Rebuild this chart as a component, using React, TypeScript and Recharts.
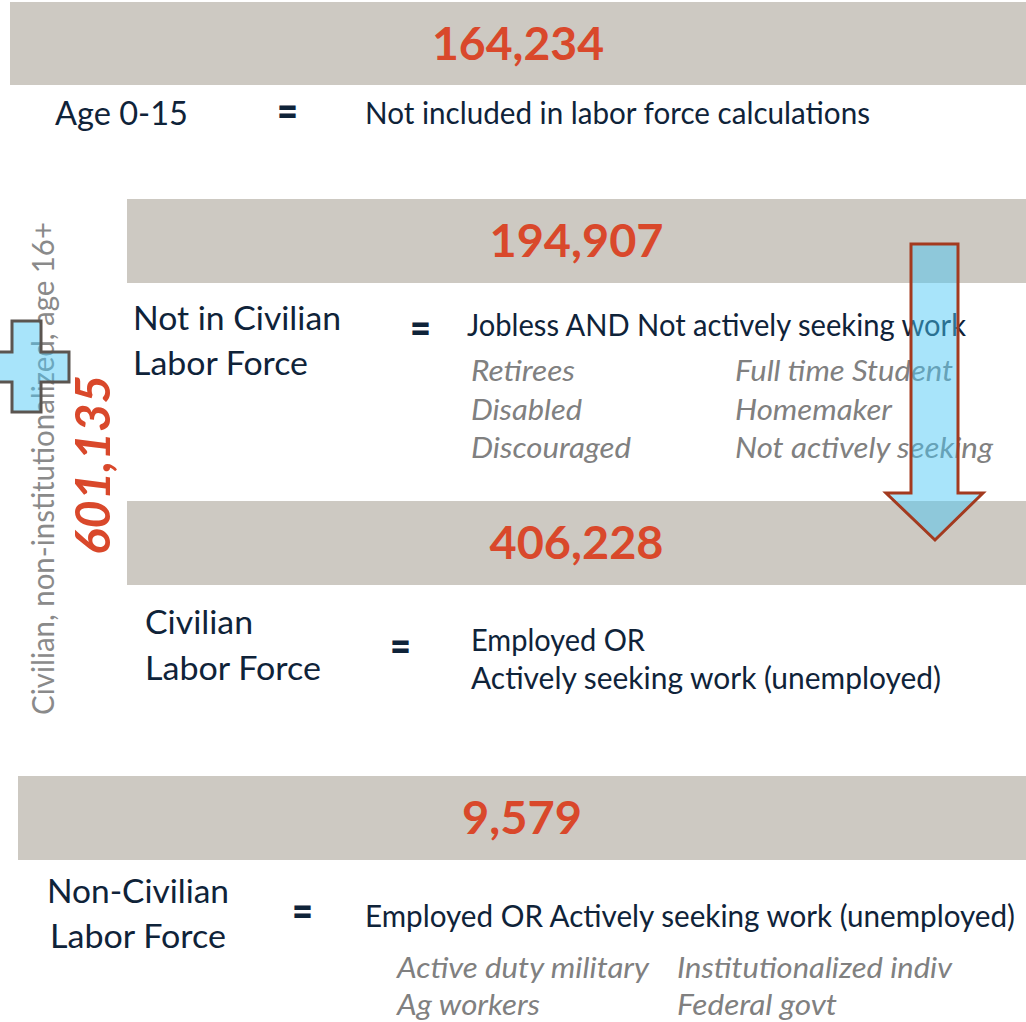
import { ComposedChart, XAxis, YAxis, ReferenceArea, Customized } from "recharts";

const totals = [164234, 194907, 406228, 9579];
const groupTotal = 601135;
const groupLabel = "Civilian, non-institutionalized, age 16+";
const rowNames = [
  ["Age 0-15"],
  ["Not in Civilian", "Labor Force"],
  ["Civilian", "Labor Force"],
  ["Non-Civilian", "Labor Force"],
];
const definitions = [
  ["Not included in labor force calculations"],
  ["Jobless AND Not actively seeking work"],
  ["Employed OR", "Actively seeking work (unemployed)"],
  ["Employed OR Actively seeking work (unemployed)"],
];
const notInLaborForce = [
  "Retirees",
  "Disabled",
  "Discouraged",
  "Full time Student",
  "Homemaker",
  "Not actively seeking",
];
const nonCivilian = [
  "Active duty military",
  "Ag workers",
  "Institutionalized indiv",
  "Federal govt",
];

const W = 1026;
const H = 1022;
const FONT = "Lato, 'Open Sans', sans-serif";
const NAVY = "#0f2339";
const RED = "#d9482b";
const BAND = "#cdc9c2";
const GREY = "#808080";
const BLUE = "#4ac7f5";

// band boxes and the width of the number inside
const bands = [
  { x1: 10, x2: W, y1: 2, y2: 85, numW: 172 },
  { x1: 127, x2: W, y1: 199, y2: 283, numW: 174 },
  { x1: 127, x2: W, y1: 501, y2: 585, numW: 174 },
  { x1: 18, x2: W, y1: 776, y2: 860, numW: 120 },
];

// [x, baseline, width] of each text line
const namePos = [
  [[55, 125, 133]],
  [
    [133, 330, 208],
    [133, 375, 175],
  ],
  [
    [145, 634, 108],
    [145, 680, 176],
  ],
  [
    [47, 903, 182],
    [50, 948, 176],
  ],
];
const eqPos = [
  [277, 124],
  [410, 341],
  [390, 659],
  [292, 924],
];
const defPos = [
  [[365, 124, 505]],
  [[467, 336, 499]],
  [
    [471, 651, 174],
    [471, 689, 470],
  ],
  [[365, 927, 650]],
];
const notInPos = [
  [471, 381, 104],
  [471, 420, 111],
  [471, 458, 160],
  [735, 381, 218],
  [735, 420, 157],
  [735, 458, 258],
];
const nonCivPos = [
  [397, 978, 252],
  [397, 1015, 143],
  [677, 978, 275],
  [677, 1015, 160],
];

const fmt = (v: number) => v.toLocaleString("en-US");

const T = ({ x, y, w, size, fill = NAVY, bold, italic, children, anchor }: any) => (
  <text
    x={x}
    y={y}
    fontSize={size}
    fontFamily={FONT}
    fill={fill}
    fontWeight={bold ? 700 : 400}
    fontStyle={italic ? "italic" : "normal"}
    textAnchor={anchor || "start"}
    textLength={w}
    lengthAdjust="spacingAndGlyphs"
  >
    {children}
  </text>
);

const Decorations = () => (
  <g>
    {rowNames.map((lines, i) =>
      lines.map((s, j) => (
        <T key={`n${i}${j}`} x={namePos[i][j][0]} y={namePos[i][j][1]} w={namePos[i][j][2]} size={32}>
          {s}
        </T>
      ))
    )}
    {eqPos.map(([x, y], i) => (
      <text
        key={`e${i}`}
        x={x}
        y={y + 3}
        fontSize={44}
        fontFamily={FONT}
        fontWeight={900}
        fill={NAVY}
        textLength={21}
        lengthAdjust="spacingAndGlyphs"
      >
        =
      </text>
    ))}
    {definitions.map((lines, i) =>
      lines.map((s, j) => (
        <T key={`d${i}${j}`} x={defPos[i][j][0]} y={defPos[i][j][1]} w={defPos[i][j][2]} size={30}>
          {s}
        </T>
      ))
    )}
    {notInLaborForce.map((s, i) => (
      <T key={`a${i}`} x={notInPos[i][0]} y={notInPos[i][1]} w={notInPos[i][2]} size={28} fill={GREY} italic>
        {s}
      </T>
    ))}
    {nonCivilian.map((s, i) => (
      <T key={`b${i}`} x={nonCivPos[i][0]} y={nonCivPos[i][1]} w={nonCivPos[i][2]} size={29} fill={GREY} italic>
        {s}
      </T>
    ))}
    <g transform="rotate(-90, 54, 715)">
      <T x={54} y={715} w={493} size={31} fill="#8a8a8a">
        {groupLabel}
      </T>
    </g>
    <g transform="rotate(-90, 110, 555)">
      <T x={110} y={555} w={180} size={48} fill={RED} bold italic>
        {fmt(groupTotal)}
      </T>
    </g>
  </g>
);

const NumberLabel = ({ viewBox, value, w }: any) => {
  const cx = viewBox.x + viewBox.width / 2;
  const cy = viewBox.y + viewBox.height / 2;
  return (
    <T x={cx} y={cy + 16} w={w} size={45} fill={RED} bold anchor="middle">
      {value}
    </T>
  );
};

// down arrow drawn inside its box: shaft 25..72 px across, head starts 249 px down
const ArrowShape = ({ x, y, width, height }: any) => {
  const s1 = x + 25;
  const s2 = x + 72;
  const hy = y + 249;
  const pts = [
    [s1, y],
    [s2, y],
    [s2, hy],
    [x + width, hy],
    [x + width / 2 + 0.5, y + height],
    [x, hy],
    [s1, hy],
  ];
  return (
    <polygon
      points={pts.map((p) => p.join(",")).join(" ")}
      fill={BLUE}
      fillOpacity={0.48}
      stroke="#a33a1f"
      strokeWidth={3}
    />
  );
};

// plus sign: arms 29-30 px thick, centred in its box
const PlusShape = ({ x, y, width, height }: any) => {
  const ax1 = x + 27;
  const ax2 = x + 56;
  const ay1 = y + 31;
  const ay2 = y + 61;
  const r = x + width;
  const b = y + height;
  const pts = [
    [ax1, y],
    [ax2, y],
    [ax2, ay1],
    [r, ay1],
    [r, ay2],
    [ax2, ay2],
    [ax2, b],
    [ax1, b],
    [ax1, ay2],
    [x, ay2],
    [x, ay1],
    [ax1, ay1],
  ];
  return (
    <polygon
      points={pts.map((p) => p.join(",")).join(" ")}
      fill={BLUE}
      fillOpacity={0.48}
      stroke="#5b5550"
      strokeWidth={3}
    />
  );
};

export default function App() {
  return (
    <div style={{ width: W, height: H, background: "#fff" }}>
      <style>{"body{margin:0}"}</style>
      <ComposedChart width={W} height={H} data={[]} margin={{ top: 0, right: 0, bottom: 0, left: 0 }}>
        <XAxis type="number" dataKey="x" domain={[0, W]} hide allowDataOverflow />
        <YAxis type="number" dataKey="y" domain={[0, H]} reversed hide allowDataOverflow />
        <Customized component={Decorations} />
        {bands.map((b, i) => (
          <ReferenceArea
            key={i}
            x1={b.x1}
            x2={b.x2}
            y1={b.y1}
            y2={b.y2}
            fill={BAND}
            fillOpacity={1}
            stroke="none"
            ifOverflow="visible"
            label={(p: any) => <NumberLabel {...p} value={fmt(totals[i])} w={b.numW} />}
          />
        ))}
        <ReferenceArea x1={-15} x2={69} y1={321} y2={412} ifOverflow="visible" shape={PlusShape} />
        <ReferenceArea x1={886} x2={983} y1={244} y2={540} ifOverflow="visible" shape={ArrowShape} />
      </ComposedChart>
    </div>
  );
}
